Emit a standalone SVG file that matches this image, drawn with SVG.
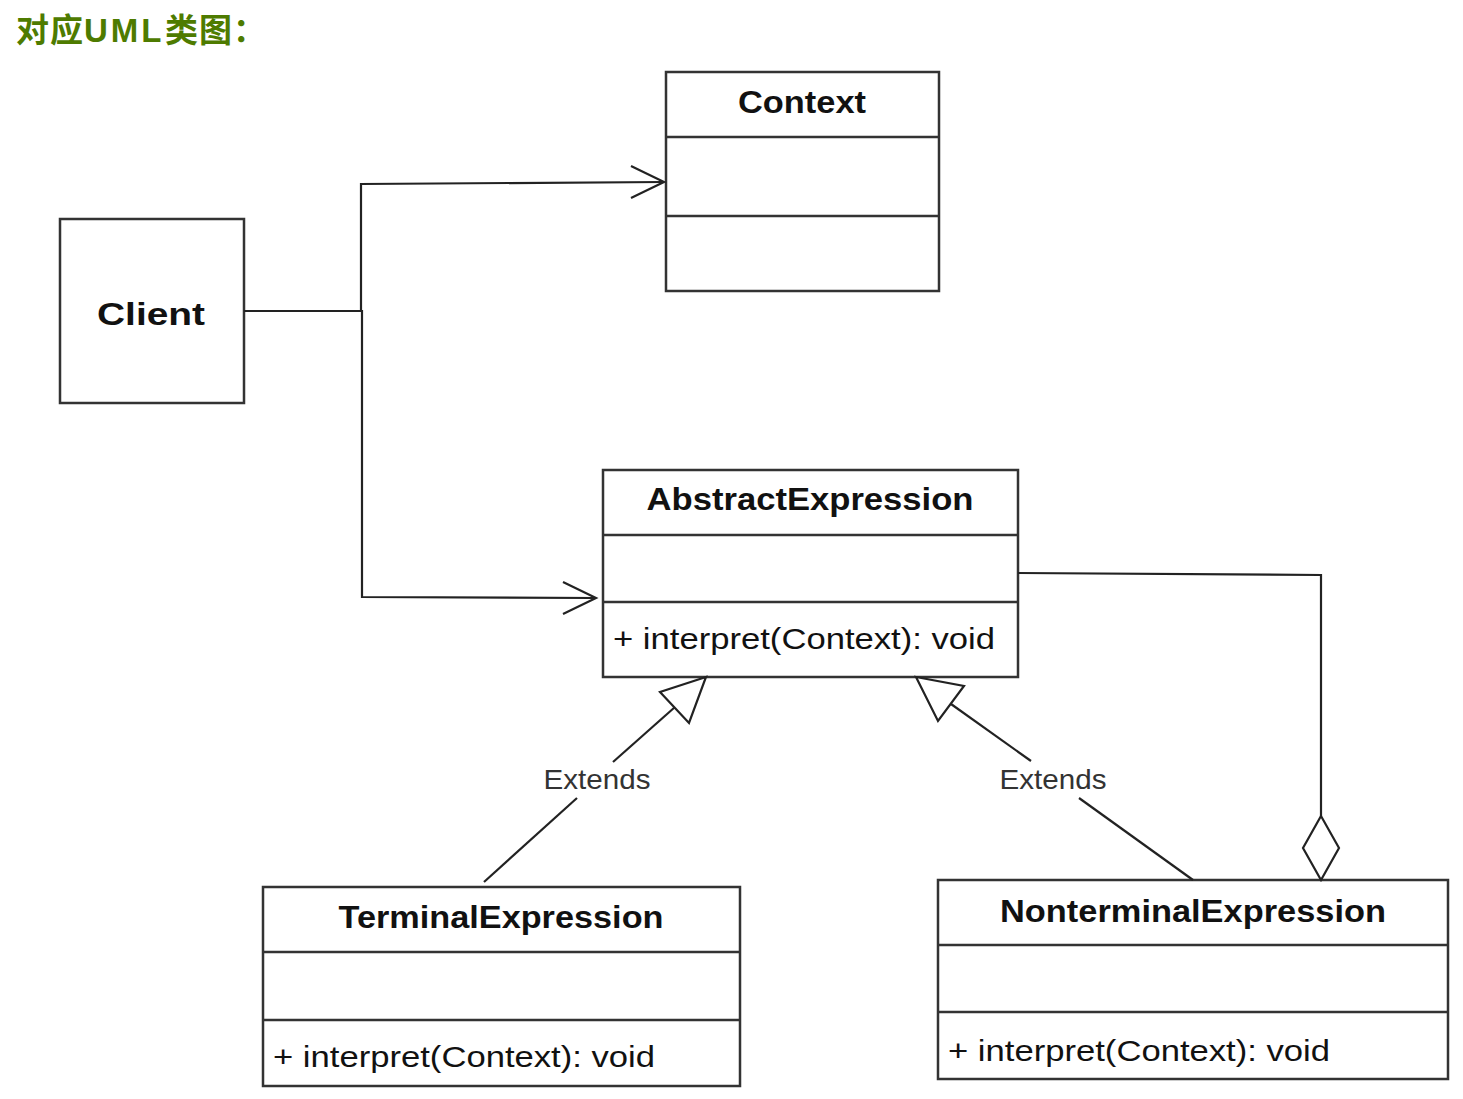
<svg xmlns="http://www.w3.org/2000/svg" width="1463" height="1099" viewBox="0 0 1463 1099">
<style>
.box{fill:#fff;stroke:#333;stroke-width:2.5}
.div{stroke:#333;stroke-width:2.5}
.ttl{font-family:"Liberation Sans",Arial,sans-serif;font-weight:bold;font-size:32px;fill:#111;text-anchor:middle}
.mth{font-family:"Liberation Sans",Arial,sans-serif;font-size:30px;fill:#111}
.lbl{font-family:"Liberation Sans",Arial,sans-serif;font-size:28px;fill:#333;text-anchor:middle}
.ln{fill:none;stroke:#222;stroke-width:2.2}
.hd{fill:#fff;stroke:#222;stroke-width:2.2}
</style>
<rect width="1463" height="1099" fill="#fff"/>
<text y="42" font-family="'Liberation Sans','Noto Sans CJK SC',sans-serif" font-weight="bold" font-size="33" fill="#4e7b00"><tspan x="16" letter-spacing="1">对应</tspan><tspan x="84" letter-spacing="3">UML</tspan><tspan x="165" letter-spacing="1">类图</tspan><tspan x="233">：</tspan></text>

<g id="context">
<rect class="box" x="666" y="72" width="273" height="219"/>
<line class="div" x1="666" y1="137" x2="939" y2="137"/>
<line class="div" x1="666" y1="216" x2="939" y2="216"/>
<text class="ttl" x="802" y="113" font-size="33" textLength="128" lengthAdjust="spacingAndGlyphs">Context</text>
</g>

<g id="client">
<rect class="box" x="60" y="219" width="184" height="184"/>
<text class="ttl" x="151" y="325" font-size="36" textLength="108" lengthAdjust="spacingAndGlyphs">Client</text>
</g>

<g id="abstractExpression">
<rect class="box" x="603" y="470" width="415" height="207"/>
<line class="div" x1="603" y1="535" x2="1018" y2="535"/>
<line class="div" x1="603" y1="602" x2="1018" y2="602"/>
<text class="ttl" x="810" y="510" textLength="327" lengthAdjust="spacingAndGlyphs">AbstractExpression</text>
<text class="mth" x="613" y="649" textLength="382" lengthAdjust="spacingAndGlyphs">+ interpret(Context): void</text>
</g>

<g id="terminalExpression">
<rect class="box" x="263" y="887" width="477" height="199"/>
<line class="div" x1="263" y1="952" x2="740" y2="952"/>
<line class="div" x1="263" y1="1020" x2="740" y2="1020"/>
<text class="ttl" x="501" y="928" textLength="325" lengthAdjust="spacingAndGlyphs">TerminalExpression</text>
<text class="mth" x="273" y="1067" textLength="382" lengthAdjust="spacingAndGlyphs">+ interpret(Context): void</text>
</g>

<g id="nonterminalExpression">
<rect class="box" x="938" y="880" width="510" height="199"/>
<line class="div" x1="938" y1="945" x2="1448" y2="945"/>
<line class="div" x1="938" y1="1012" x2="1448" y2="1012"/>
<text class="ttl" x="1193" y="922" textLength="386" lengthAdjust="spacingAndGlyphs">NonterminalExpression</text>
<text class="mth" x="948" y="1061" textLength="382" lengthAdjust="spacingAndGlyphs">+ interpret(Context): void</text>
</g>

<g id="connectors">
<!-- Client to Context -->
<polyline class="ln" points="244,311 361,311 361,184 664,182"/>
<polyline class="ln" points="631,166 664,182 631,198"/>
<!-- Client to AbstractExpression -->
<polyline class="ln" points="361,311 362,311 362,597 596,598"/>
<polyline class="ln" points="563,582 596,598 563,614"/>
<!-- Terminal extends Abstract -->
<line class="ln" x1="484" y1="882" x2="577" y2="798"/>
<line class="ln" x1="613" y1="762" x2="675" y2="707"/>
<polygon class="hd" points="706,677 660,692 689,723"/>
<text class="lbl" x="597" y="789" textLength="107" lengthAdjust="spacingAndGlyphs">Extends</text>
<!-- Nonterminal extends Abstract -->
<line class="ln" x1="1193" y1="880" x2="1079" y2="798"/>
<line class="ln" x1="1031" y1="761" x2="951" y2="704"/>
<polygon class="hd" points="916,677 964,686 938,721"/>
<text class="lbl" x="1053" y="789" textLength="107" lengthAdjust="spacingAndGlyphs">Extends</text>
<!-- Aggregation -->
<polyline class="ln" points="1018,573 1321,575 1321,816"/>
<polygon class="hd" points="1321,816 1339,848 1321,880 1303,848"/>
</g>
</svg>
